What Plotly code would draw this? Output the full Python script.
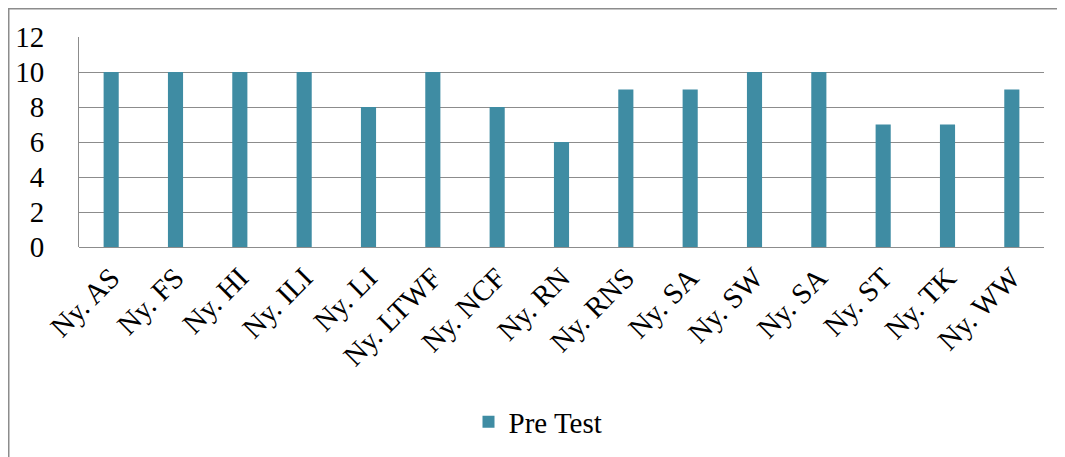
import plotly.graph_objects as go

categories = ["Ny. AS", "Ny. FS", "Ny. HI", "Ny. ILI", "Ny. LI", "Ny. LTWF", "Ny. NCF",
              "Ny. RN", "Ny. RNS", "Ny. SA", "Ny. SW", "Ny. SA", "Ny. ST", "Ny. TK", "Ny. WW"]
pre_test = [10, 10, 10, 10, 8, 10, 8, 6, 9, 9, 10, 10, 7, 7, 9]
y_ticks = [0, 2, 4, 6, 8, 10, 12]

# page body has an 8px margin; figure coords = screen coords - 8
W, H = 1057, 449
L, T = 71, 29
R = W - 1036
B = H - 239
pw, ph = W - L - R, H - T - B

positions = list(range(len(categories)))

fig = go.Figure()
fig.add_trace(go.Bar(
    x=positions, y=pre_test, name="Pre Test",
    marker=dict(color="#3f8ca3", line=dict(width=0)),
    width=0.235, showlegend=True,
))

font_family = "Liberation Serif, Times New Roman, serif"

fig.update_layout(
    width=W, height=H,
    margin=dict(l=L, r=R, t=T, b=B, autoexpand=False),
    paper_bgcolor="white", plot_bgcolor="white",
    font=dict(family=font_family, size=29, color="black"),
    showlegend=True,
    legend=dict(orientation="h", x=(530 - L) / pw, xanchor="center",
                y=(T + ph - 414) / ph, yanchor="middle",
                font=dict(size=29, family=font_family),
                itemwidth=30),
    xaxis=dict(
        tickmode="array", tickvals=positions, ticktext=categories,
        tickangle=-45, range=[-0.5, len(categories) - 0.5],
        showgrid=False, showline=False, ticks="",
        tickfont=dict(size=29, family=font_family),
        ticklabelstandoff=7,
    ),
    yaxis=dict(
        range=[0, 12], tickvals=y_ticks, showgrid=True,
        gridcolor="#8c8c8c", gridwidth=1,
        showline=True, linecolor="#8c8c8c", linewidth=1,
        zeroline=True, zerolinecolor="#8c8c8c", zerolinewidth=1,
        ticks="", tickfont=dict(size=29, family=font_family),
        ticklabelstandoff=28,
    ),
    shapes=[
        dict(type="line", xref="paper", yref="paper",
             x0=(0.75 - L) / pw, x1=(0.75 - L) / pw,
             y0=-B / ph - 0.1, y1=(T + ph - 0.5) / ph,
             line=dict(color="#8c8c8c", width=1.5), layer="below"),
        dict(type="line", xref="paper", yref="paper",
             x0=(0 - L) / pw, x1=(W + 10 - L) / pw,
             y0=(T + ph - 0.75) / ph, y1=(T + ph - 0.75) / ph,
             line=dict(color="#8c8c8c", width=1.5), layer="below"),
    ],
)

fig.write_html("out.html")
